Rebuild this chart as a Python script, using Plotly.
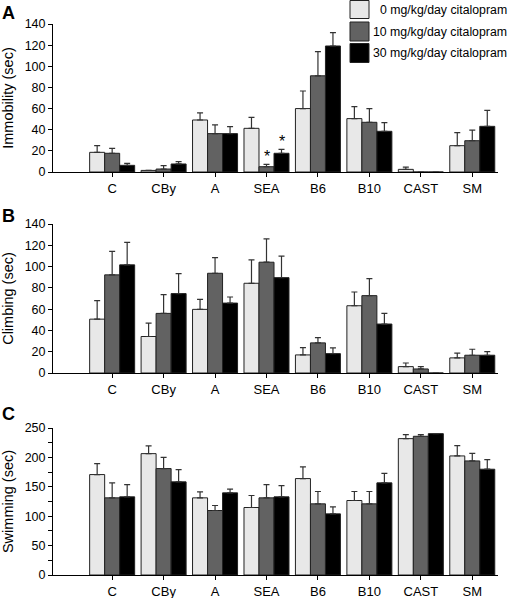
import plotly.graph_objects as go
from plotly.subplots import make_subplots

strains = ["C", "CBy", "A", "SEA", "B6", "B10", "CAST", "SM"]
series_names = ["0 mg/kg/day citalopram", "10 mg/kg/day citalopram", "30 mg/kg/day citalopram"]

# Panel A: Immobility (sec) - means and upper error-bar tops (mean + SEM)
immob_0 = [18.6, 1.5, 49.2, 41.3, 60.0, 50.5, 2.5, 24.9]
immob_0_top = [25.0, 1.5, 56.0, 51.7, 76.6, 61.8, 4.7, 37.2]
immob_10 = [17.7, 2.8, 36.3, 5.0, 91.0, 47.0, 0.0, 29.6]
immob_10_top = [22.4, 6.0, 44.5, 7.3, 113.8, 60.0, 0.0, 39.7]
immob_30 = [6.3, 7.6, 36.3, 17.7, 119.2, 38.5, 0.0, 43.2]
immob_30_top = [8.2, 9.8, 43.0, 21.4, 131.8, 46.7, 0.0, 58.3]

# Panel B: Climbing (sec)
climb_0 = [50.6, 34.3, 59.8, 84.3, 17.0, 63.2, 6.0, 14.2]
climb_0_top = [68.0, 46.9, 69.2, 106.3, 23.9, 76.1, 9.4, 18.6]
climb_10 = [92.2, 56.0, 93.7, 104.1, 28.3, 72.7, 3.8, 16.7]
climb_10_top = [114.2, 73.6, 108.5, 126.1, 33.3, 88.7, 6.0, 22.3]
climb_30 = [101.6, 74.6, 65.7, 89.6, 18.2, 46.0, 0.0, 16.7]
climb_30_top = [122.7, 93.4, 71.4, 109.8, 23.6, 56.0, 0.0, 20.1]

# Panel C: Swimming (sec)
swim_0 = [170.8, 206.4, 131.2, 114.8, 164.0, 126.7, 231.9, 202.5]
swim_0_top = [189.5, 219.5, 141.4, 135.2, 183.8, 142.0, 238.7, 220.0]
swim_10 = [131.2, 181.0, 109.7, 131.2, 121.0, 121.0, 235.9, 194.0]
swim_10_top = [156.7, 200.2, 118.2, 153.8, 142.0, 142.0, 238.7, 207.0]
swim_30 = [132.9, 158.4, 139.7, 132.9, 104.0, 156.7, 240.4, 179.9]
swim_30_top = [153.8, 179.3, 145.9, 152.1, 116.0, 173.0, 240.4, 196.3]

panel_titles = ["Immobility (sec)", "Climbing (sec)", "Swimming (sec)"]
panel_letters = ["A", "B", "C"]
y_ranges = [[0, 140], [0, 140], [0, 250]]
y_dticks = [20, 20, 50]

# significance markers (strain, series index)
sig_marks = [("SEA", 1), ("SEA", 2)]

colors = ["#e8e8e8", "#626262", "#000000"]
FONT = "Liberation Sans, Arial, Helvetica, sans-serif"

W, H = 516, 598
ML, MR = 53, 18
PW = W - ML - MR

def py(pix):
    return 1 - pix / H

def px(pix):
    return (pix - ML) / PW

panels = [
    [(immob_0, immob_0_top), (immob_10, immob_10_top), (immob_30, immob_30_top)],
    [(climb_0, climb_0_top), (climb_10, climb_10_top), (climb_30, climb_30_top)],
    [(swim_0, swim_0_top), (swim_10, swim_10_top), (swim_30, swim_30_top)],
]

fig = make_subplots(rows=3, cols=1, shared_xaxes=False)

xpos = list(range(1, len(strains) + 1))
for r, panel in enumerate(panels, start=1):
    for s, (vals, tops) in enumerate(panel):
        errs = [max(t - v, 0) for v, t in zip(vals, tops)]
        fig.add_trace(go.Bar(
            x=xpos, y=vals, name=series_names[s], showlegend=False,
            marker=dict(color=colors[s], line=dict(color="#222222", width=1)),
            error_y=dict(type="data", symmetric=False, array=errs,
                         arrayminus=[0] * len(errs), color="#333333",
                         thickness=1.2, width=3, visible=True),
        ), row=r, col=1)

domains = [[py(172), py(24)], [py(373), py(224)], [py(575), py(428)]]

fig.update_layout(
    template="none",
    width=W, height=H,
    margin=dict(l=ML, r=MR, t=0, b=0, autoexpand=False),
    paper_bgcolor="white", plot_bgcolor="white",
    barmode="group", bargap=0.125, bargroupgap=0,
    font=dict(family=FONT, size=13, color="black"),
)

for i in range(3):
    xa = "xaxis" if i == 0 else f"xaxis{i+1}"
    ya = "yaxis" if i == 0 else f"yaxis{i+1}"
    fig.layout[xa].update(
        domain=[0, 1], range=[-0.15, 8.5], automargin=False,
        tickmode="array", tickvals=xpos, ticktext=strains,
        showline=True, linecolor="black", linewidth=1,
        ticks="outside", ticklen=4, tickcolor="black",
        showgrid=False, zeroline=False,
        tickfont=dict(size=13, family=FONT, color="black"),
    )
    yd = dict(
        domain=domains[i], range=y_ranges[i], dtick=y_dticks[i], automargin=False,
        showline=True, linecolor="black", linewidth=1,
        ticks="outside", ticklen=4, tickcolor="black",
        showgrid=False, zeroline=False,
        tickfont=dict(size=12.5, family=FONT, color="black"),
        title=dict(text=panel_titles[i], font=dict(size=14.5, family=FONT), standoff=7),
    )
    if i == 2:
        yd["minor"] = dict(dtick=25, ticks="outside", ticklen=4, tickcolor="black")
    fig.layout[ya].update(**yd)

# significance asterisks
for strain, s in sig_marks:
    idx = strains.index(strain)
    bw = (1 - 0.125) / 3
    xval = xpos[idx] + (s - 1) * bw
    fig.add_annotation(x=xval, y=panels[0][s][1][idx], xref="x", yref="y",
                       text="*", showarrow=False, yanchor="bottom", yshift=-3,
                       font=dict(size=16, family=FONT, color="black"))

# panel letters
for letter, pix in zip(panel_letters, [12.5, 216, 414]):
    fig.add_annotation(x=px(0), y=py(pix), xref="paper", yref="paper",
                       text=f"<b>{letter}</b>", showarrow=False,
                       xanchor="left", yanchor="middle",
                       font=dict(size=18, family=FONT, color="black"))

# legend (boxes + text)
box_rows = [(0.5, 18.5), (22, 41), (43.5, 62.5)]
for s, (t, b) in enumerate(box_rows):
    fig.add_shape(type="rect", xref="paper", yref="paper",
                  x0=px(350), x1=px(369), y0=py(b), y1=py(t),
                  fillcolor=colors[s], line=dict(color="#222222", width=1))
    fig.add_annotation(x=px(509), y=py((t + b) / 2), xref="paper", yref="paper",
                       text=series_names[s], showarrow=False,
                       xanchor="right", yanchor="middle",
                       font=dict(size=12.3, family=FONT, color="black"))

fig.write_html("out.html", config={"displayModeBar": False},
               post_script="document.body.style.margin='0';document.body.style.padding='0';")
